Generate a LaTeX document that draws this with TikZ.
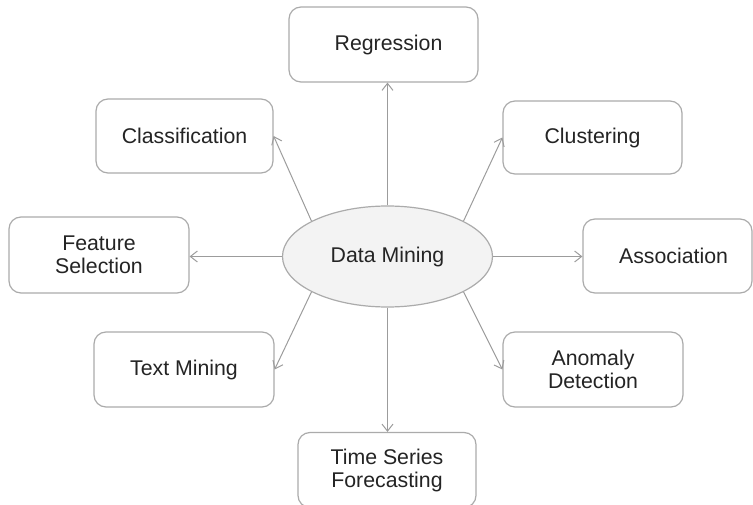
\documentclass[tikz,border=0pt]{standalone}
\usepackage{fontspec}
\setmainfont{Liberation Sans}
\usetikzlibrary{shapes.geometric,arrows.meta}
\definecolor{boxgray}{HTML}{ABABAB}
\definecolor{linegray}{HTML}{9C9C9C}
\definecolor{ellfill}{HTML}{F3F3F3}
\definecolor{txt}{HTML}{242424}
\tikzset{
  mbox/.style={draw=boxgray, line width=1.2pt, rounded corners=12pt, fill=white,
    inner sep=0pt, align=center, text=txt,
    font=\fontsize{21.3}{23}\selectfont},
  core/.style={ellipse, draw=boxgray, line width=1.2pt, fill=ellfill, inner sep=0pt,
    minimum width=210pt, minimum height=101pt, text=txt,
    font=\fontsize{21.3}{23}\selectfont},
  link/.style={draw=linegray, line width=1pt,
    -{Straight Barb[length=7pt,width=11pt,line width=1pt]}}
}
\begin{document}
\begin{tikzpicture}[x=1pt,y=-1pt]
\useasboundingbox (0,0) rectangle (753,505);
\node[core] (dm) at (387.5,256.5) {Data Mining};
\node[mbox, minimum width=189pt, minimum height=75pt] (reg) at (383.5,44.5) {\hspace*{10pt}Regression};
\node[mbox, minimum width=177pt, minimum height=74pt] (cls) at (184.5,136) {Classification};
\node[mbox, minimum width=179pt, minimum height=73pt] (clu) at (592.5,137.5) {Clustering};
\node[mbox, minimum width=180pt, minimum height=76pt] (fs) at (99,255) {Feature\\Selection};
\node[mbox, minimum width=169pt, minimum height=74pt] (as) at (667.5,256) {\hspace*{12pt}Association};
\node[mbox, minimum width=180pt, minimum height=75pt] (tm) at (184,369.5) {Text Mining};
\node[mbox, minimum width=180pt, minimum height=75pt] (ad) at (593,369.5) {Anomaly\\Detection};
\node[mbox, minimum width=178pt, minimum height=75pt] (ts) at (387,470) {Time Series\\Forecasting};
\draw[link] (dm.north) -- (dm.north |- reg.south);
\draw[link] (dm.south) -- (dm.south |- ts.north);
\draw[link] (dm.west) -- (dm.west -| fs.east);
\draw[link] (dm.east) -- (dm.east -| as.west);
\draw[link] (dm.155) -- (cls.east);
\draw[link] (dm.25) -- (clu.west);
\draw[link] (dm.205) -- (tm.east);
\draw[link] (dm.335) -- (ad.west);
\end{tikzpicture}
\end{document}
